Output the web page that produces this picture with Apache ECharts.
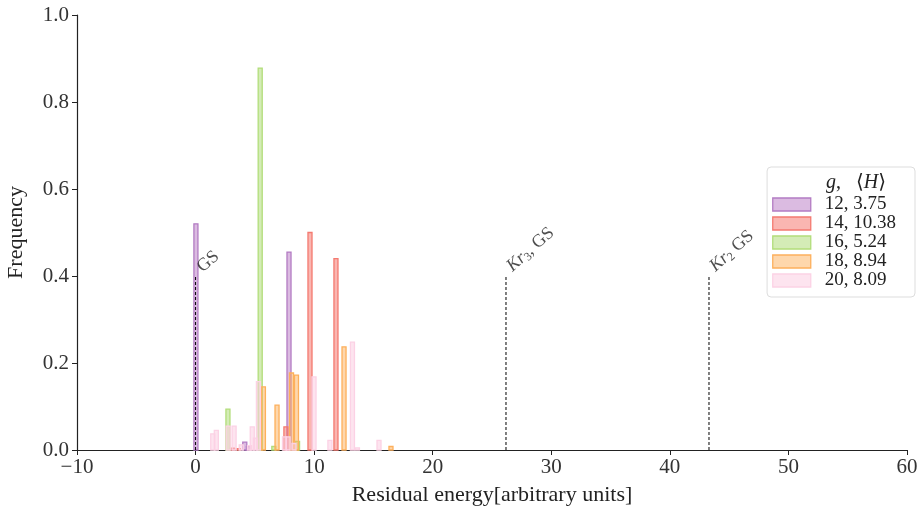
<!DOCTYPE html>
<html><head><meta charset="utf-8">
<script src="https://cdn.jsdelivr.net/npm/echarts@6/dist/echarts.min.js"></script>
<style>html,body{margin:0;padding:0;background:#fff}#c{width:918px;height:508px}</style>
</head><body><div id="c"></div>
<script>
// Histogram bins: centers and heights per series
const names = ['12, 3.75', '14, 10.38', '16, 5.24', '18, 8.94', '20, 8.09'];
const purpleX = [0.03, 4.15, 4.45, 7.88];
const purpleH = [0.52, 0.018, 0.008, 0.455];
const redX = [3.1, 3.6, 7.62, 9.65, 11.84];
const redH = [0.004, 0.003, 0.053, 0.50, 0.44];
const greenX = [2.73, 5.45, 6.6, 8.6];
const greenH = [0.094, 0.878, 0.008, 0.02];
const orangeX = [5.72, 6.87, 8.09, 8.51, 12.52, 16.48];
const orangeH = [0.145, 0.103, 0.177, 0.172, 0.237, 0.008];
const pinkX = [1.45, 1.75, 2.75, 3.25, 3.85, 4.55, 4.78, 5.05, 5.3, 7.5, 7.8, 8.3, 9.99, 11.33, 13.23, 13.65, 15.47];
const pinkH = [0.037, 0.045, 0.055, 0.055, 0.012, 0.01, 0.053, 0.027, 0.157, 0.03, 0.03, 0.015, 0.168, 0.022, 0.248, 0.005, 0.022];
const binWidth = 0.34;
// Reference energies (dashed markers)
const markX = [0, 26.18, 43.3];
const markTop = 0.4;
const markLabels = ['{n|GS}', '{i|Kr}{s|3}{n|, GS}', '{i|Kr}{s|2}{n| GS}'];
const xTicks = [-10, 0, 10, 20, 30, 40, 50, 60];
const yTicks = [0, 0.2, 0.4, 0.6, 0.8, 1.0];

const fills = ['rgba(183,120,196,0.5)', 'rgba(246,110,100,0.5)', 'rgba(170,218,110,0.5)', 'rgba(253,175,90,0.5)', 'rgba(252,205,226,0.55)'];
const edges = ['#b37cc3', '#f47a70', '#b2dd7a', '#fdb05c', '#fcd2e5'];
const FONT = '"Liberation Serif", "DejaVu Serif", serif';

const groups = [[purpleX, purpleH], [redX, redH], [greenX, greenH], [orangeX, orangeH], [pinkX, pinkH]];

const series = groups.map((g, k) => ({
  type: 'custom', name: names[k],
  data: g[0].map((x, i) => [x, g[1][i]]),
  itemStyle: {color: fills[k], borderColor: edges[k], borderWidth: 1.3},
  z: 2 + k,
  renderItem: function (params, api) {
    const c = api.value(0), h = api.value(1);
    const p0 = api.coord([c - binWidth / 2, h]);
    const p1 = api.coord([c + binWidth / 2, 0]);
    return {type: 'rect', shape: {x: p0[0], y: p0[1], width: p1[0] - p0[0], height: p1[1] - p0[1]},
      style: {fill: fills[k], stroke: edges[k], lineWidth: 1.3}};
  }
}));

markX.forEach((mx) => {
  series.push({
    type: 'line', symbol: 'none', silent: true, z: 10,
    lineStyle: {color: '#000', width: 1, type: [3, 2]},
    data: [[mx, 0], [mx, markTop]]
  });
});
series.push({
  type: 'scatter', symbolSize: 0, silent: true, z: 11,
  data: markX.map((mx, i) => ({value: [mx, markTop], label: {formatter: markLabels[i]}})),
  label: {
    show: true, position: [10, 0], rotate: 42, align: 'left', verticalAlign: 'bottom',
    rich: {
      n: {fontFamily: FONT, fontSize: 18, color: '#222'},
      i: {fontFamily: FONT, fontSize: 18, fontStyle: 'italic', color: '#222'},
      s: {fontFamily: FONT, fontSize: 12, color: '#222', padding: [8, 0, 0, 0]}
    }
  }
});

const chart = echarts.init(document.getElementById('c'), null, {renderer: 'canvas'});
chart.setOption({
  animation: false,
  backgroundColor: '#fff',
  grid: {left: 77, right: 11, top: 15, bottom: 58, containLabel: false, outerBoundsMode: 'none'},
  xAxis: {
    type: 'value', min: xTicks[0], max: xTicks[xTicks.length - 1], interval: 10,
    name: 'Residual energy[arbitrary units]', nameLocation: 'middle', nameGap: 34,
    nameTextStyle: {fontFamily: FONT, fontSize: 22, color: '#222'},
    axisLine: {onZero: false, lineStyle: {color: '#222', width: 1.2}},
    axisTick: {show: true, length: 5, lineStyle: {color: '#222'}},
    axisLabel: {fontFamily: FONT, fontSize: 21, color: '#333', margin: 7,
      formatter: v => String(v).replace('-', '\u2212')},
    splitLine: {show: false}
  },
  yAxis: {
    type: 'value', min: yTicks[0], max: yTicks[yTicks.length - 1], interval: 0.2,
    name: 'Frequency', nameLocation: 'middle', nameGap: 50,
    nameTextStyle: {fontFamily: FONT, fontSize: 22, color: '#222'},
    axisLine: {show: true, onZero: false, lineStyle: {color: '#222', width: 1.2}},
    axisTick: {show: true, length: 5, lineStyle: {color: '#222'}},
    axisLabel: {fontFamily: FONT, fontSize: 21, color: '#333', margin: 8,
      formatter: v => v.toFixed(1)},
    splitLine: {show: false}
  },
  legend: {
    orient: 'vertical', right: 3, top: 167,
    padding: [28, 19, 7, 5],
    backgroundColor: '#fff', borderColor: '#ddd', borderWidth: 1, borderRadius: 4,
    itemWidth: 38, itemHeight: 13, itemGap: 0,
    textStyle: {fontFamily: FONT, fontSize: 19, color: '#222', lineHeight: 19, padding: [0, 0, 0, 9]},
    data: names.map((n, k) => ({name: n, icon: 'rect',
      itemStyle: {color: fills[k], borderColor: edges[k], borderWidth: 1.3}}))
  },
  graphic: [{
    type: 'text', left: 826, top: 173, z: 100,
    style: {
      text: '{i|g},   {n|\u27E8}{i|H}{n|\u27E9}',
      rich: {
        i: {fontFamily: FONT, fontSize: 20, fontStyle: 'italic', fill: '#222'},
        n: {fontFamily: FONT, fontSize: 20, fill: '#222'}
      },
      font: '20px ' + FONT, fill: '#222'
    }
  }],
  series: series
});
</script></body></html>
